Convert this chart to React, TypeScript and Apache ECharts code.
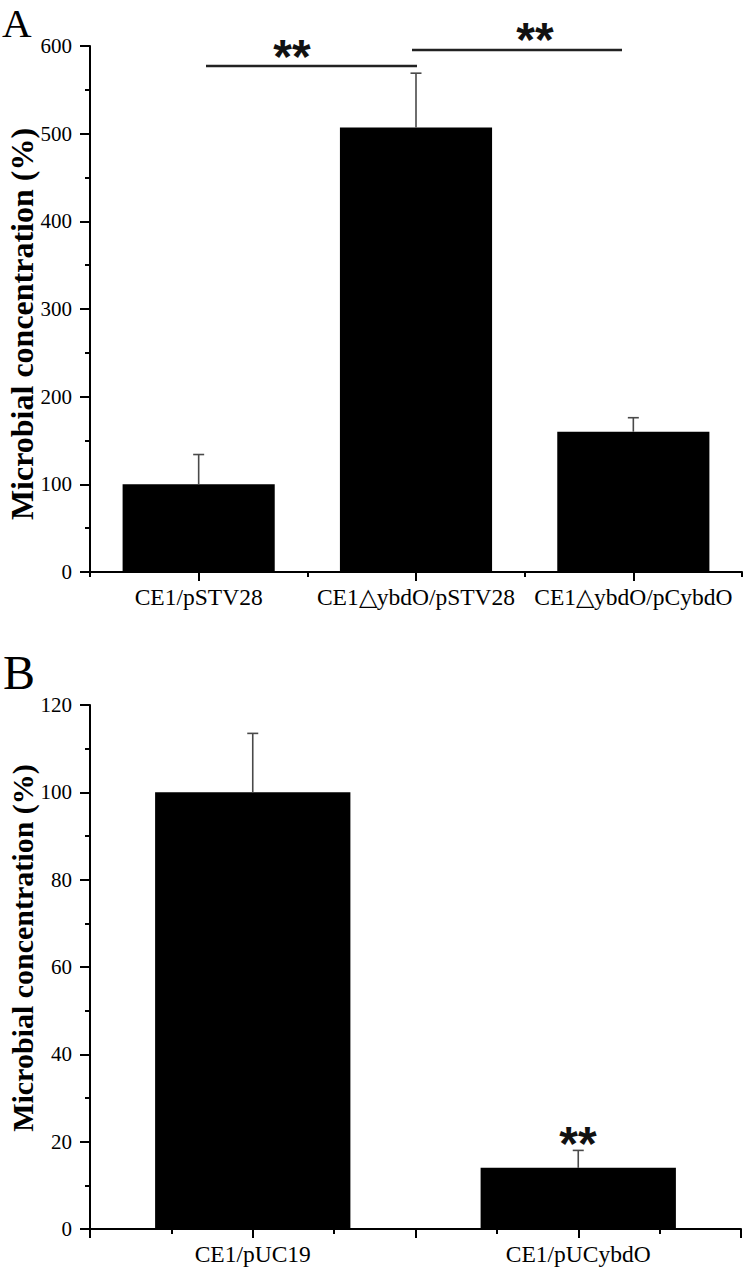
import React, { useEffect, useRef } from "react";
import * as echarts from "echarts";

const catsA = ["CE1/pSTV28", "CE1\u25B3ybdO/pSTV28", "CE1\u25B3ybdO/pCybdO"];
const valsA = [100, 507, 160];
const errA = [34, 62, 16];
const ticksA = [0, 100, 200, 300, 400, 500, 600];

const catsB = ["CE1/pUC19", "CE1/pUCybdO"];
const valsB = [100, 14];
const errB = [13.5, 4];
const ticksB = [0, 20, 40, 60, 80, 100, 120];

const yName = "Microbial concentration (%)";
const SERIF = "'Liberation Serif', 'Times New Roman', serif";

function errorRender(params: any, api: any) {
  const x = api.value(0);
  const v = api.value(1);
  const t = api.value(2);
  const p0 = api.coord([x, v]);
  const p1 = api.coord([x, t]);
  const st = { stroke: "#4a4a4a", lineWidth: 1.6 };
  return {
    type: "group",
    children: [
      { type: "line", shape: { x1: p0[0], y1: p0[1], x2: p1[0], y2: p1[1] }, style: st },
      { type: "line", shape: { x1: p1[0] - 5.5, y1: p1[1], x2: p1[0] + 5.5, y2: p1[1] }, style: st },
    ],
  };
}

const black = "#000";

function catAxis(gridIndex: number, data: string[], align: boolean, tickShow: boolean) {
  return {
    type: "category",
    gridIndex,
    data,
    position: "bottom",
    axisLine: { show: false, onZero: false },
    axisTick: { show: tickShow, alignWithLabel: align, length: 9, lineStyle: { color: black, width: 2 } },
    axisLabel: { interval: 0, fontSize: 23.5, fontFamily: SERIF, color: black, margin: 13 },
    splitLine: { show: false },
  };
}

function tickAxis(gridIndex: number, max: number, major: number, minor: boolean) {
  return {
    type: "value",
    gridIndex,
    min: 0,
    max,
    interval: 1,
    position: "bottom",
    axisLine: { show: true, onZero: false, lineStyle: { color: black, width: 2 } },
    axisTick: { show: true, length: major, lineStyle: { color: black, width: 2 } },
    minorTick: { show: minor, splitNumber: 2, length: 5, lineStyle: { color: black, width: 2 } },
    axisLabel: { show: false },
    splitLine: { show: false },
    minorSplitLine: { show: false },
  };
}

function valAxis(gridIndex: number, ticks: number[]) {
  return {
    type: "value",
    gridIndex,
    min: ticks[0],
    max: ticks[ticks.length - 1],
    interval: ticks[1] - ticks[0],
    axisLine: { show: true, onZero: false, lineStyle: { color: black, width: 2 } },
    axisTick: { show: true, length: 10, lineStyle: { color: black, width: 2 } },
    minorTick: { show: true, splitNumber: 2, length: 5, lineStyle: { color: black, width: 2 } },
    axisLabel: { fontSize: 21, fontFamily: SERIF, color: black, margin: 18 },
    splitLine: { show: false },
    minorSplitLine: { show: false },
  };
}

export default function App() {
  const ref = useRef<HTMLDivElement>(null);
  useEffect(() => {
    if (!ref.current) return;
    const chart = echarts.init(ref.current, null, { renderer: "svg" });
    const starStyle = { text: "**", fontSize: 48, fontWeight: "bold", fontFamily: "'Liberation Sans', Arial, sans-serif", fill: "#111", align: "center", verticalAlign: "middle" };
    chart.setOption({
      animation: false,
      backgroundColor: "#fff",
      grid: [
        { left: 90, top: 46, width: 652, height: 526 },
        { left: 90, top: 705, width: 651, height: 524 },
      ],
      xAxis: [
        catAxis(0, catsA, true, true),
        tickAxis(0, 3, 5, false),
        catAxis(1, catsB, true, false),
        tickAxis(1, 4, 9, true),
      ],
      yAxis: [valAxis(0, ticksA), valAxis(1, ticksB)],
      series: [
        {
          type: "bar",
          xAxisIndex: 0,
          yAxisIndex: 0,
          data: valsA,
          barWidth: "70%",
          itemStyle: { color: black },
        },
        {
          type: "custom",
          xAxisIndex: 0,
          yAxisIndex: 0,
          renderItem: errorRender,
          encode: { x: 0, y: [1, 2] },
          data: catsA.map((c, i) => [i, valsA[i], valsA[i] + errA[i]]),
          z: 5,
        },
        {
          type: "bar",
          xAxisIndex: 2,
          yAxisIndex: 1,
          data: valsB,
          barWidth: "60%",
          itemStyle: { color: black },
        },
        {
          type: "custom",
          xAxisIndex: 2,
          yAxisIndex: 1,
          renderItem: errorRender,
          encode: { x: 0, y: [1, 2] },
          data: catsB.map((c, i) => [i, valsB[i], valsB[i] + errB[i]]),
          z: 5,
        },
      ],
      graphic: [
        { type: "text", left: 2, top: 2, style: { text: "A", fontSize: 41, fontFamily: SERIF, fill: black } },
        { type: "text", left: 3, top: 648, style: { text: "B", fontSize: 48, fontFamily: SERIF, fill: black } },
        {
          type: "text", x: 22, y: 324, rotation: Math.PI / 2,
          style: { text: yName, fontSize: 32, fontWeight: "bold", fontFamily: SERIF, fill: black, align: "center", verticalAlign: "middle" },
        },
        {
          type: "text", x: 22, y: 948, rotation: Math.PI / 2,
          style: { text: yName, fontSize: 30, fontWeight: "bold", fontFamily: SERIF, fill: black, align: "center", verticalAlign: "middle" },
        },
        { type: "line", shape: { x1: 206, y1: 66, x2: 417, y2: 66 }, style: { stroke: "#222", lineWidth: 2.5 } },
        { type: "line", shape: { x1: 412, y1: 50, x2: 622, y2: 50 }, style: { stroke: "#222", lineWidth: 2.5 } },
        { type: "text", x: 292, y: 56, style: { ...starStyle } },
        { type: "text", x: 535, y: 39, style: { ...starStyle } },
        { type: "text", x: 578, y: 1143, style: { ...starStyle } },
      ],
    });
    return () => chart.dispose();
  }, []);
  return (
    <div
      ref={ref}
      style={{ position: "absolute", left: 0, top: 0, width: 743, height: 1269, background: "#fff" }}
    />
  );
}
